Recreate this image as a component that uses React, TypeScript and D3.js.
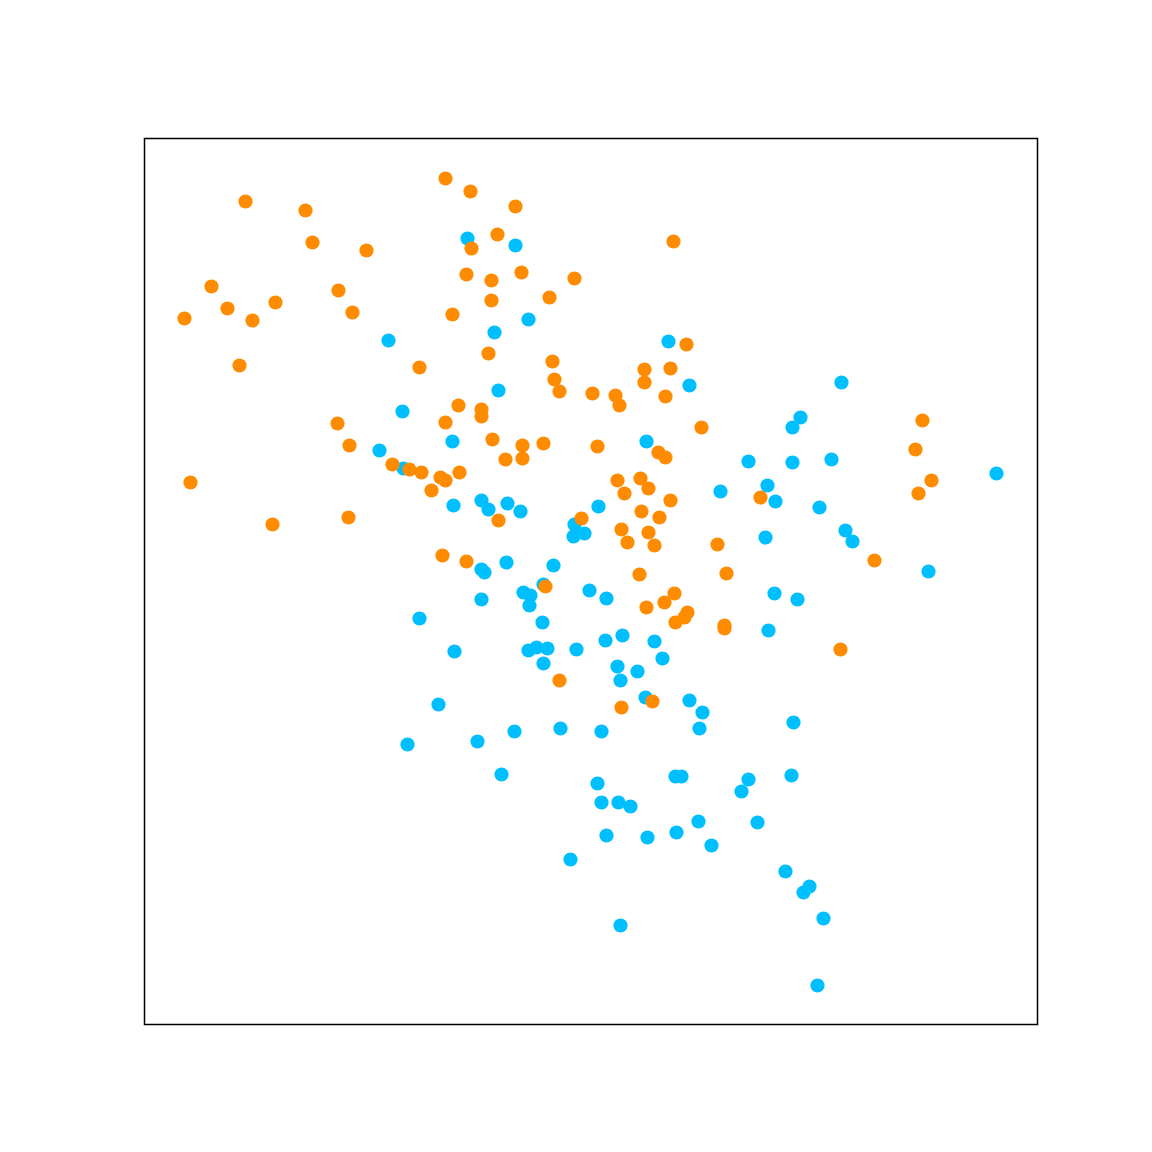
import React from "react";
import * as d3 from "d3";

const orangeX = [-1.45,-1.20,-0.75,-3.45,-2.85,-2.78,-2.24,-0.93,-1.19,0.83,-1.24,-0.99,-0.69,-0.16,-3.79,-2.52,-0.99,-0.41,-4.06,-3.63,-3.38,-3.15,-2.38,-1.38,-3.51,-1.71,-1.02,-0.38,-0.36,-0.31,0.96,0.54,0.80,0.54,0.02,0.25,0.29,0.75,-1.32,-1.09,-1.09,-1.45,-2.53,-2.41,-0.98,-0.68,-0.47,-0.85,-0.68,0.07,1.11,0.68,0.75,3.32,3.25,3.41,3.28,-4.00,-1.98,-1.81,-1.69,-1.50,-1.45,-1.31,-1.59,0.27,0.50,0.34,0.58,0.80,1.70,-3.18,-2.42,-0.92,-0.09,0.51,0.69,0.31,0.58,0.37,0.64,1.27,-1.48,-1.24,2.84,1.36,0.49,-0.45,0.84,0.74,0.56,0.97,0.94,0.85,1.34,1.34,2.50,-0.31,0.62,0.31];
const orangeY = [4.02,3.89,3.74,3.79,3.70,3.38,3.30,3.46,3.32,3.39,3.06,3.00,3.08,3.02,2.94,2.90,2.80,2.83,2.62,2.72,2.60,2.78,2.68,2.66,2.15,2.13,2.27,2.19,2.01,1.89,2.36,2.11,2.12,1.98,1.87,1.85,1.75,1.84,1.75,1.71,1.64,1.58,1.57,1.35,1.41,1.35,1.37,1.21,1.22,1.34,1.53,1.28,1.23,1.60,1.31,1.00,0.87,0.98,1.16,1.11,1.08,1.03,1.00,1.08,0.90,1.00,1.02,0.87,0.92,0.80,0.83,0.56,0.63,0.60,0.62,0.69,0.63,0.51,0.48,0.38,0.35,0.36,0.25,0.19,0.20,0.07,0.06,-0.06,-0.13,-0.22,-0.27,-0.32,-0.37,-0.42,-0.45,-0.48,-0.69,-1.00,-1.21,-1.27];

const blueX = [-1.23,-0.75,-0.62,-0.96,-2.02,0.78,0.99,-0.92,-1.88,2.51,2.10,2.02,0.56,-1.38,-2.11,-1.87,1.58,2.02,2.41,4.06,1.77,1.85,1.30,-1.37,-1.09,-1.02,-0.83,-0.70,0.08,2.29,-0.16,-0.17,-0.06,2.55,2.62,1.75,-0.84,-0.37,-1.09,-1.06,3.38,-0.47,-0.01,-0.67,-0.60,-0.61,0.16,-1.09,1.84,2.07,-1.71,-0.48,0.32,0.15,0.64,-0.54,-0.43,-0.62,-0.14,-1.36,1.78,0.72,-0.47,0.27,0.47,0.30,0.55,0.99,1.12,-1.52,1.09,-0.30,-0.76,0.11,2.03,-1.83,-1.13,-0.89,0.85,0.91,1.58,2.01,1.51,0.07,0.11,0.28,0.40,1.08,1.67,0.16,0.57,0.86,1.21,-0.20,1.95,2.19,2.13,2.33,0.30,2.27];
const blueY = [3.42,3.35,2.61,2.48,2.40,2.39,1.95,1.90,1.69,1.98,1.63,1.53,1.39,1.39,1.30,1.12,1.19,1.18,1.21,1.07,0.95,0.79,0.89,0.75,0.80,0.71,0.77,0.69,0.74,0.73,0.56,0.44,0.47,0.50,0.39,0.43,0.18,0.15,0.11,0.08,0.09,-0.04,-0.10,-0.12,-0.15,-0.25,-0.18,-0.19,-0.13,-0.19,-0.38,-0.42,-0.55,-0.60,-0.61,-0.67,-0.68,-0.70,-0.69,-0.71,-0.50,-0.78,-0.83,-0.86,-0.91,-1.00,-1.17,-1.20,-1.32,-1.24,-1.48,-1.48,-1.51,-1.51,-1.42,-1.64,-1.61,-1.94,-1.96,-1.96,-1.99,-1.95,-2.11,-2.03,-2.22,-2.22,-2.26,-2.41,-2.42,-2.55,-2.57,-2.52,-2.65,-2.79,-2.91,-3.06,-3.12,-3.38,-3.45,-4.05];

const seriesColors = ["#00BFFF", "#FF8C00"];
const xDomain = [-4.46, 4.47];
const yDomain = [-4.44, 4.42];

export default function App() {
  const W = 1152, H = 1152;
  const left = 144, right = 1037, top = 138, bottom = 1024;
  const x = d3.scaleLinear().domain(xDomain).range([left + 0.5, right + 0.5]);
  const y = d3.scaleLinear().domain(yDomain).range([bottom + 0.5, top + 0.5]);
  const series = [
    { xs: blueX, ys: blueY, color: seriesColors[0] },
    { xs: orangeX, ys: orangeY, color: seriesColors[1] },
  ];
  return (
    <svg width={W} height={H} style={{ position: "absolute", left: 0, top: 0, background: "#fff" }}>
      <rect x={0} y={0} width={W} height={H} fill="#fff" />
      {series.map((s, si) => (
        <g key={si}>
          {s.xs.map((v, i) => (
            <circle key={i} cx={x(v)} cy={y(s.ys[i])} r={7.1} fill={s.color} />
          ))}
        </g>
      ))}
      <rect x={left + 0.5} y={top + 0.5} width={right - left} height={bottom - top} fill="none" stroke="#000" strokeWidth={1.5} />
    </svg>
  );
}
